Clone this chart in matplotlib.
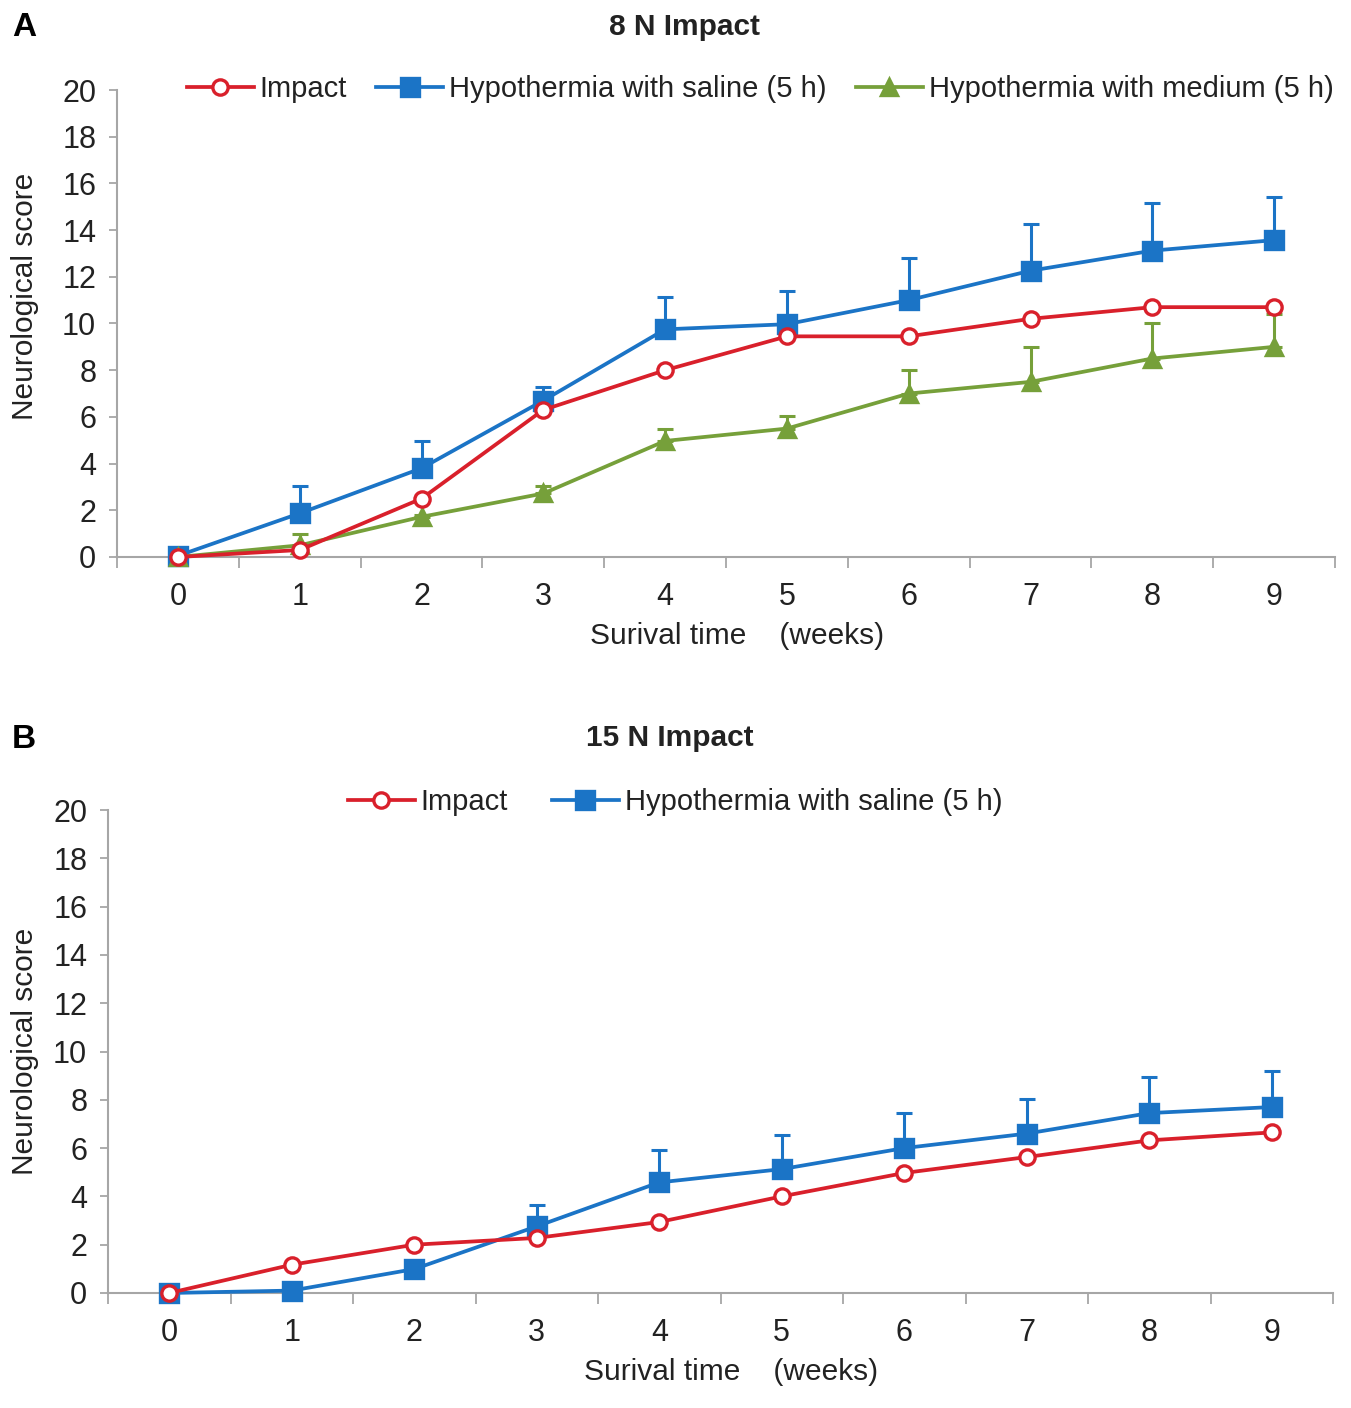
import matplotlib
matplotlib.use("Agg")
import matplotlib.pyplot as plt
import numpy as np

plt.rcParams['font.family'] = ['Liberation Sans', 'DejaVu Sans']

weeks = [0, 1, 2, 3, 4, 5, 6, 7, 8, 9]

# Panel A: 8 N impact
a_impact = [0.0, 0.3, 2.5, 6.3, 8.0, 9.45, 9.45, 10.2, 10.7, 10.7]
a_saline = [0.05, 1.87, 3.8, 6.7, 9.75, 9.97, 11.0, 12.26, 13.12, 13.57]
a_saline_err = [0.0, 1.18, 1.15, 0.56, 1.4, 1.42, 1.8, 1.99, 2.03, 1.83]
a_medium = [0.0, 0.5, 1.72, 2.72, 4.97, 5.5, 7.0, 7.5, 8.5, 9.0]
a_medium_err = [0.0, 0.5, 0.1, 0.31, 0.53, 0.53, 1.0, 1.5, 1.53, 1.4]

# Panel B: 15 N impact
b_impact = [0.0, 1.17, 2.0, 2.28, 2.94, 4.0, 4.97, 5.63, 6.32, 6.65]
b_saline = [0.0, 0.1, 0.99, 2.76, 4.58, 5.13, 6.0, 6.6, 7.45, 7.7]
b_saline_err = [0.0, 0.0, 0.0, 0.9, 1.35, 1.42, 1.45, 1.43, 1.48, 1.48]

yticks = [0, 2, 4, 6, 8, 10, 12, 14, 16, 18, 20]

RED = '#d9202b'
BLUE = '#1b74c6'
GREEN = '#76a03a'
GREY = '#a6a6a6'
TXT = '#222222'
FS = 21.5
LFS = 21
TFS = 22

fig = plt.figure(figsize=(13.51, 14.08), dpi=100)

def style_axes(ax, ylab_xy, xlab_xy):
    ax.set_xlim(-0.5, 9.5)
    ax.set_ylim(0, 20)
    ax.set_yticks(yticks)
    ax.set_yticklabels([str(v) for v in yticks], fontsize=TFS, color=TXT)
    ax.set_xticks(weeks)
    ax.set_xticklabels([str(w) for w in weeks], fontsize=TFS, color=TXT)
    ax.set_xticks(np.arange(-0.5, 10, 1.0), minor=True)
    ax.tick_params(axis='x', which='major', length=0, pad=18)
    ax.tick_params(axis='x', which='minor', length=8, width=1.3, color=GREY, direction='out')
    ax.tick_params(axis='y', which='major', length=6, width=1.3, color=GREY, direction='out', pad=9)
    for s in ['top', 'right']:
        ax.spines[s].set_visible(False)
    for s in ['left', 'bottom']:
        ax.spines[s].set_color(GREY)
        ax.spines[s].set_linewidth(1.5)
    ax.set_ylabel('Neurological score', fontsize=FS, color=TXT, va='center')
    ax.yaxis.set_label_coords(*ylab_xy)
    ax.set_xlabel('Surival time    (weeks)', fontsize=FS, color=TXT)
    ax.xaxis.set_label_coords(*xlab_xy)

def series(ax, y, err, color, marker, ms, mfc, label):
    if err is not None:
        ax.errorbar(weeks, y, yerr=[np.zeros(len(err)), err], fmt='none',
                    ecolor=color, elinewidth=2.2, capsize=6, capthick=2.2, zorder=2)
    ax.plot(weeks, y, color=color, lw=2.7, marker=marker, ms=ms,
            mfc=mfc, mec=color, mew=2.4, label=label, zorder=3, clip_on=False)

# Panel A
axA = fig.add_axes([117/1351, 1 - 557/1408, (1335 - 117)/1351, (557 - 90)/1408])
series(axA, a_saline, a_saline_err, BLUE, 's', 12.5, BLUE, 'Hypothermia with saline (5 h)')
series(axA, a_medium, a_medium_err, GREEN, '^', 12, GREEN, 'Hypothermia with medium (5 h)')
series(axA, a_impact, None, RED, 'o', 11, 'white', 'Impact')
style_axes(axA, ((25 - 117)/1218, (557 - 296)/467), ((737 - 117)/1218, (557 - 622)/467))
h, l = axA.get_legend_handles_labels()
order = [2, 0, 1]
axA.legend([h[i] for i in order], [l[i] for i in order], loc='center',
           bbox_to_anchor=(760/1351, 1 - 89/1408), bbox_transform=fig.transFigure,
           ncol=3, frameon=False, fontsize=LFS, handlelength=2.3, handletextpad=0.2,
           columnspacing=1.0, labelcolor=TXT)
fig.text(12/1351, 1 - 27/1408, 'A', fontsize=24, fontweight='bold', va='center', ha='left', color='black')
fig.text(685/1351, 1 - 27/1408, '8 N Impact', fontsize=FS, fontweight='bold', va='center', ha='center', color=TXT)

# Panel B
axB = fig.add_axes([108/1351, 1 - 1293/1408, (1333 - 108)/1351, (1293 - 810)/1408])
series(axB, b_saline, b_saline_err, BLUE, 's', 12.5, BLUE, 'Hypothermia with saline (5 h)')
series(axB, b_impact, None, RED, 'o', 11, 'white', 'Impact')
style_axes(axB, ((25 - 108)/1225, (1293 - 1051)/483), ((731 - 108)/1225, (1293 - 1358)/483))
h, l = axB.get_legend_handles_labels()
order = [1, 0]
axB.legend([h[i] for i in order], [l[i] for i in order], loc='center',
           bbox_to_anchor=(675/1351, 1 - 802/1408), bbox_transform=fig.transFigure,
           ncol=2, frameon=False, fontsize=LFS, handlelength=2.3, handletextpad=0.2,
           columnspacing=1.5, labelcolor=TXT)
fig.text(12/1351, 1 - 740/1408, 'B', fontsize=24, fontweight='bold', va='center', ha='left', color='black')
fig.text(670/1351, 1 - 738/1408, '15 N Impact', fontsize=FS, fontweight='bold', va='center', ha='center', color=TXT)

fig.savefig('out.png', dpi=100, facecolor='white')
